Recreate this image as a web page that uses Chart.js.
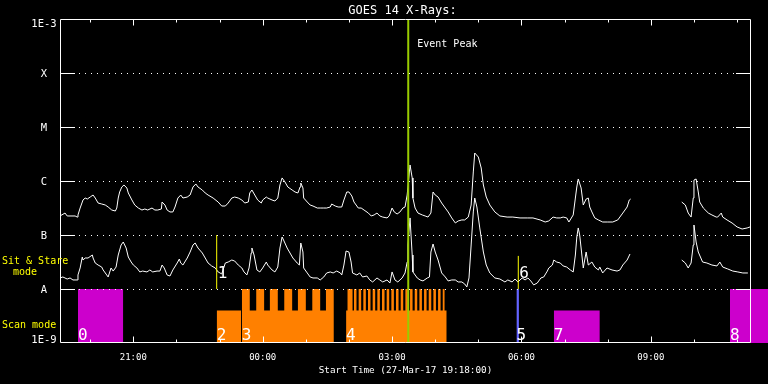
<!DOCTYPE html>
<html><head><meta charset="utf-8">
<style>html,body{margin:0;padding:0;background:#000;}canvas{display:block;}</style>
<script src="https://cdn.jsdelivr.net/npm/chart.js@4.4.1/dist/chart.umd.min.js"></script>
</head><body>
<canvas id="c" width="768" height="384"></canvas>
<script>
// ---------- DATA (time in minutes after 27-Mar-17 19:18:00, flux in W/m^2) ----------
const T_START = 0, T_END = 960, T_VIEW_END = 985;
const Y_MIN = 1e-9, Y_MAX = 1e-3;

const yTickVals   = [1e-3, 1e-4, 1e-5, 1e-6, 1e-7, 1e-8, 1e-9];
const yTickLabels = ['1E-3', 'X', 'M', 'C', 'B', 'A', '1E-9'];
const yGridVals   = [1e-4, 1e-5, 1e-6, 1e-7, 1e-8];

const xMajorTicks  = [102, 282, 462, 642, 822];
const xMajorLabels = ['21:00', '00:00', '03:00', '06:00', '09:00'];
const xMinorTicks  = [42, 162, 222, 342, 402, 522, 582, 702, 762, 882, 942];

// long channel (upper curve)
const longT = [0,7,10,21,24,25,28,31,32,35,38,42,46,49,53,58,63,67,72,77,79,81,83,86,89,93,95,100,104,109,114,118,122,128,132,136,141,142,146,149,153,157,160,164,168,171,177,181,185,189,192,198,202,206,213,220,225,230,234,239,243,248,253,257,262,264,267,271,275,280,282,287,289,295,299,303,306,309,313,317,323,327,331,334,335,338,339,344,348,352,358,362,367,371,376,378,383,387,392,395,399,402,406,409,415,419,423,429,433,437,441,445,449,455,458,462,465,469,473,477,480,483,487,490,491,494,498,504,508,512,516,519,522,526,531,536,540,545,550,554,559,563,568,572,575,577,582,586,589,593,598,605,612,622,630,640,650,658,668,675,680,686,691,696,700,705,708,714,717,719,721,725,728,732,735,737,740,744,749,755,762,769,776,783,789,792,794,830,865,870,874,878,881,882,885,888,890,895,902,907,913,915,920,922,928,935,942,949,956,960];
const longV = [2.25e-7,2.55e-7,2.25e-7,2.25e-7,2.15e-7,2.35e-7,3.16e-7,4.08e-7,4.45e-7,4.84e-7,4.64e-7,5.05e-7,5.5e-7,4.84e-7,3.91e-7,3.75e-7,3.59e-7,3.3e-7,2.9e-7,2.78e-7,3.16e-7,4.84e-7,6.26e-7,7.74e-7,8.43e-7,7.42e-7,6.0e-7,4.45e-7,3.59e-7,3.16e-7,2.9e-7,3.03e-7,2.9e-7,3.16e-7,2.9e-7,2.9e-7,3.03e-7,4.08e-7,3.59e-7,2.9e-7,2.67e-7,2.67e-7,3.3e-7,4.84e-7,5.5e-7,4.84e-7,5.05e-7,5.5e-7,7.74e-7,8.8e-7,7.74e-7,6.81e-7,6.0e-7,5.5e-7,4.84e-7,4.08e-7,3.44e-7,3.44e-7,3.91e-7,4.84e-7,5.05e-7,4.84e-7,4.45e-7,3.91e-7,4.08e-7,6.0e-7,6.81e-7,5.5e-7,4.45e-7,3.91e-7,4.45e-7,5.05e-7,4.84e-7,4.45e-7,4.26e-7,4.84e-7,8.43e-7,1.14e-6,9.58e-7,7.74e-7,6.81e-7,6.26e-7,6.0e-7,7.74e-7,9.18e-7,7.42e-7,4.84e-7,4.08e-7,3.59e-7,3.44e-7,3.16e-7,3.16e-7,3.16e-7,3.16e-7,3.3e-7,3.75e-7,3.44e-7,3.3e-7,3.3e-7,4.45e-7,6.26e-7,6.26e-7,5.28e-7,4.08e-7,3.16e-7,3.16e-7,2.9e-7,2.55e-7,2.25e-7,2.35e-7,2.55e-7,2.25e-7,2.15e-7,2.07e-7,2.25e-7,3.16e-7,2.67e-7,2.45e-7,2.67e-7,3.16e-7,3.3e-7,5.5e-7,1.98e-6,1.14e-6,4.84e-7,3.16e-7,2.55e-7,2.35e-7,2.25e-7,2.15e-7,2.55e-7,6.26e-7,5.5e-7,5.05e-7,3.91e-7,3.16e-7,2.67e-7,2.07e-7,1.67e-7,1.82e-7,1.9e-7,1.9e-7,2.15e-7,3.59e-7,1.47e-6,3.3e-6,2.78e-6,1.74e-6,8.43e-7,5.05e-7,3.59e-7,2.67e-7,2.25e-7,2.15e-7,2.15e-7,2.07e-7,2.07e-7,2.07e-7,1.9e-7,1.74e-7,1.82e-7,2.15e-7,2.07e-7,2.07e-7,2.15e-7,2.07e-7,1.74e-7,2.35e-7,4.84e-7,7.74e-7,1.09e-6,7.42e-7,3.59e-7,4.64e-7,4.84e-7,3.3e-7,2.67e-7,2.07e-7,1.9e-7,1.74e-7,1.74e-7,1.74e-7,1.9e-7,2.55e-7,3.3e-7,4.45e-7,4.64e-7,null,4.08e-7,3.59e-7,2.55e-7,2.15e-7,4.84e-7,1.04e-6,1.09e-6,6.26e-7,4.08e-7,3.16e-7,2.55e-7,2.35e-7,2.15e-7,2.15e-7,2.55e-7,2.15e-7,1.9e-7,1.67e-7,1.41e-7,1.29e-7,1.35e-7,1.41e-7];

// short channel (lower curve)
const shortT = [0,4,10,14,18,24,25,28,31,32,35,39,45,46,49,53,58,60,65,67,71,74,78,81,85,88,92,95,99,102,107,111,115,121,125,129,135,139,142,145,149,153,157,163,166,168,171,177,181,185,188,192,198,202,206,211,216,220,225,230,234,239,243,248,253,256,260,263,266,267,270,274,278,282,287,289,295,299,303,306,309,311,316,320,324,330,333,335,338,339,344,348,352,358,362,367,371,376,380,385,390,392,395,398,402,405,407,413,417,421,427,431,435,441,445,449,455,459,462,466,470,476,480,483,484,487,490,491,497,501,505,511,514,516,519,522,526,531,536,540,545,550,554,559,563,566,569,572,575,577,580,584,589,593,598,605,612,619,623,629,633,637,643,647,651,655,659,664,669,673,678,680,685,687,691,696,700,705,710,714,717,719,721,723,728,732,735,740,744,749,751,755,761,768,775,779,783,789,793,830,865,870,874,878,881,882,885,888,894,900,907,914,918,922,929,936,943,950,957];
const shortV = [1.6e-8,1.67e-8,1.53e-8,1.6e-8,1.47e-8,1.47e-8,1.82e-8,2.45e-8,3.91e-8,3.44e-8,3.75e-8,3.75e-8,4.26e-8,3.75e-8,3.03e-8,2.78e-8,2.55e-8,2.25e-8,1.82e-8,1.67e-8,2.45e-8,2.15e-8,2.55e-8,4.26e-8,6.53e-8,7.42e-8,5.74e-8,3.91e-8,3.16e-8,2.78e-8,2.45e-8,2.07e-8,2.15e-8,2.07e-8,2.25e-8,2.07e-8,2.15e-8,2.15e-8,2.78e-8,2.45e-8,1.82e-8,1.74e-8,2.25e-8,3.03e-8,3.59e-8,3.03e-8,2.78e-8,3.75e-8,4.84e-8,6.53e-8,7.11e-8,5.74e-8,4.64e-8,3.75e-8,3.03e-8,2.67e-8,2.45e-8,2.07e-8,1.9e-8,3.03e-8,3.16e-8,3.44e-8,3.3e-8,2.78e-8,2.45e-8,2.07e-8,1.82e-8,2.45e-8,4.64e-8,5.74e-8,4.26e-8,2.25e-8,2.07e-8,2.45e-8,3.16e-8,2.78e-8,2.25e-8,2.07e-8,2.55e-8,5.74e-8,9.18e-8,8.08e-8,5.74e-8,4.64e-8,3.75e-8,3.03e-8,2.78e-8,7.11e-8,4.84e-8,2.45e-8,1.98e-8,1.67e-8,1.6e-8,1.6e-8,1.47e-8,1.67e-8,1.98e-8,2.07e-8,1.98e-8,2.15e-8,1.98e-8,1.82e-8,2.78e-8,5.05e-8,4.84e-8,3.16e-8,1.98e-8,1.82e-8,1.98e-8,1.67e-8,1.74e-8,1.47e-8,1.35e-8,1.6e-8,1.47e-8,1.35e-8,1.47e-8,1.29e-8,2.07e-8,1.47e-8,1.35e-8,1.6e-8,1.98e-8,3.16e-8,6.53e-8,2.07e-7,4.26e-8,2.07e-8,1.6e-8,1.47e-8,1.41e-8,1.6e-8,1.67e-8,4.84e-8,6.81e-8,4.84e-8,3.44e-8,1.98e-8,1.67e-8,1.41e-8,1.47e-8,1.47e-8,1.35e-8,1.35e-8,1.24e-8,1.09e-8,1.6e-8,6.53e-8,2.67e-7,4.84e-7,3.3e-7,1.35e-7,4.84e-8,2.78e-8,1.98e-8,1.6e-8,1.53e-8,1.35e-8,1.47e-8,1.35e-8,1.53e-8,1.35e-8,1.6e-8,1.47e-8,1.6e-8,1.41e-8,1.19e-8,1.29e-8,1.6e-8,1.67e-8,2.15e-8,2.45e-8,2.78e-8,3.44e-8,3.16e-8,3.03e-8,2.67e-8,2.55e-8,2.25e-8,2.07e-8,4.26e-8,9.18e-8,1.35e-7,1.0e-7,2.45e-8,4.84e-8,2.78e-8,3.16e-8,2.55e-8,2.25e-8,2.55e-8,1.98e-8,2.45e-8,2.25e-8,2.15e-8,2.25e-8,2.78e-8,3.44e-8,4.45e-8,null,3.44e-8,3.03e-8,2.45e-8,3.03e-8,6.53e-8,1.53e-7,7.42e-8,4.84e-8,3.16e-8,3.03e-8,2.78e-8,2.67e-8,3.16e-8,2.55e-8,2.35e-8,2.15e-8,2.07e-8,1.98e-8,1.98e-8];

// scan-mode blocks
const scanIds   = ['0', '2', '3', '4', '5', '7', '8'];
const scanStart = [25, 218, 253, 398, 635, 687, 932];
const scanEnd   = [88, 252, 381, 538, 638.5, 751, 985];
const scanLevel = [1e-8, 4e-9, 4e-9, 4e-9, 1e-8, 4e-9, 1e-8];
const scanTallLevel = 1e-8;
const block3Tall = [[253,264],[273,284],[292,303],[312,323],[331,342],[351,362],[370,381]];
const block4Tall = [[400,407],[409,412.5],[415.5,419],[422,425.5],[428.5,432],[435,438.5],[441.5,445],[448,451.5],[454.5,458],[461,464.5],[467.5,471],[474,477.5],[480.5,484],[487,490.5],[493.5,497],[500,503.5],[506.5,510],[513,516.5],[519.5,523],[526,529.5],[532.5,535]];
const scanTall  = [null, null, block3Tall, block4Tall, null, null, null];

// sit & stare markers
const ssIds  = ['1', '6'];
const ssT    = [218, 637.6];
const ssTop  = [1e-7, 4.1e-8];
const ssBase = 1e-8;

const EVENT_T = 484.5;
const TITLE = 'GOES 14 X-Rays:';
const EVENT_LABEL = 'Event Peak';
const X_TITLE = 'Start Time (27-Mar-17 19:18:00)';

// ---------- STYLE ----------
const scanColors = ['#cc00cc', '#ff8000', '#ff8000', '#ff8000', '#6464ff', '#cc00cc', '#cc00cc'];
const MONO = '"DejaVu Sans Mono", "Liberation Mono", monospace';

// ---------- BUILD ----------
function pts(ts, vs) { return ts.map((t, i) => ({x: t, y: vs[i]})); }
function blockPoly(s, e, lvl, tall) {
  const p = [{x: s, y: Y_MIN}, {x: s, y: lvl}];
  if (tall) {
    for (const [a, b] of tall) {
      p.push({x: a, y: lvl}, {x: a, y: scanTallLevel}, {x: b, y: scanTallLevel}, {x: b, y: lvl});
    }
  }
  p.push({x: e, y: lvl}, {x: e, y: Y_MIN});
  return p;
}

const datasets = [];
datasets.push({data: [{x: EVENT_T, y: Y_MIN}, {x: EVENT_T, y: Y_MAX}], borderColor: '#99cc00', borderWidth: 2, order: 0});
ssIds.forEach((id, i) => datasets.push({data: [{x: ssT[i], y: ssBase}, {x: ssT[i], y: ssTop[i]}], borderColor: '#ffff00', borderWidth: 1, order: 1}));
datasets.push({data: pts(longT, longV), borderColor: '#ffffff', borderWidth: 1, order: 2});
datasets.push({data: pts(shortT, shortV), borderColor: '#ffffff', borderWidth: 1, order: 2});
scanIds.forEach((id, i) => datasets.push({
  data: blockPoly(scanStart[i], scanEnd[i], scanLevel[i], scanTall[i]),
  borderWidth: 0, borderColor: 'rgba(0,0,0,0)', backgroundColor: scanColors[i], fill: 'start', order: 5
}));
datasets.forEach(d => { d.pointRadius = 0; d.tension = 0; if (d.fill === undefined) d.fill = false; d.spanGaps = false; });

const idl = {
  id: 'idl',
  beforeDraw(chart) {
    const c = chart.ctx; c.save(); c.fillStyle = '#000'; c.fillRect(0, 0, chart.width, chart.height); c.restore();
  },
  afterDatasetsDraw(chart) {
    const ctx = chart.ctx, xs = chart.scales.x, ys = chart.scales.y;
    const line = (a, b, c, d) => { ctx.beginPath(); ctx.moveTo(a, b); ctx.lineTo(c, d); ctx.stroke(); };
    const Lr = Math.round(xs.getPixelForValue(T_START)), Rr = Math.round(xs.getPixelForValue(T_END));
    const L = Lr + 0.5, R = Rr + 0.5;
    const T = Math.round(ys.getPixelForValue(Y_MAX)) + 0.5;
    const B = Math.round(ys.getPixelForValue(Y_MIN)) - 0.5;
    ctx.save();
    ctx.strokeStyle = '#fff'; ctx.lineWidth = 1;
    yGridVals.forEach(v => {
      const py = Math.round(ys.getPixelForValue(v)) + 0.5;
      ctx.setLineDash([]);
      line(Lr, py, Lr + 15, py); line(Rr - 14, py, Rr + 1, py);
      ctx.setLineDash([1, 5]);
      line(Lr + 19, py, Rr - 16, py);
    });
    ctx.setLineDash([]);
    ctx.beginPath(); ctx.moveTo(L, T); ctx.lineTo(R, T); ctx.lineTo(R, B); ctx.lineTo(L, B); ctx.closePath(); ctx.stroke();
    xMinorTicks.forEach(t => { const px = Math.round(xs.getPixelForValue(t)) + 0.5; line(px, B, px, B - 3); line(px, T, px, T + 3); });
    xMajorTicks.forEach(t => { const px = Math.round(xs.getPixelForValue(t)) + 0.5; line(px, B, px, B - 6); line(px, T, px, T + 6); });

    ctx.fillStyle = '#fff';
    ctx.textBaseline = 'alphabetic';
    // y labels
    ctx.font = '10.5px ' + MONO; ctx.textAlign = 'center';
    yTickVals.forEach((v, i) => {
      const py = ys.getPixelForValue(v);
      let by = py + 4;
      if (v === Y_MAX) by = py + 8; else if (v === Y_MIN) by = py;
      ctx.fillText(yTickLabels[i], Lr - 16, by);
    });
    // x labels
    ctx.font = '9px ' + MONO;
    xMajorTicks.forEach((t, i) => ctx.fillText(xMajorLabels[i], xs.getPixelForValue(t), B + 17));
    ctx.font = '9.3px ' + MONO;
    ctx.fillText(X_TITLE, (L + R) / 2, B + 30);
    // title
    ctx.font = '12px ' + MONO;
    ctx.fillText(TITLE, (L + R) / 2 - 3, T - 6);
    // event label
    ctx.textAlign = 'left'; ctx.font = '10px ' + MONO;
    ctx.fillText(EVENT_LABEL, xs.getPixelForValue(EVENT_T) + 9, T + 27.5);
    // mode labels
    const yA = ys.getPixelForValue(1e-8);
    ctx.fillStyle = '#ffff00';
    ctx.fillText('Sit & Stare', 2, yA - 25.5);
    ctx.fillText('mode', 13, yA - 14.5);
    ctx.fillText('Scan mode', 2, B - 15);
    // block digits
    ctx.fillStyle = '#fff'; ctx.font = '16px ' + MONO;
    scanIds.forEach((id, i) => ctx.fillText(id, xs.getPixelForValue(scanStart[i]), B - 3));
    ssIds.forEach((id, i) => ctx.fillText(id, xs.getPixelForValue(ssT[i]) + 1, yA - 11));
    ctx.restore();
  }
};

new Chart(document.getElementById('c'), {
  type: 'line',
  data: {datasets},
  options: {
    responsive: false, animation: false, devicePixelRatio: 1,
    layout: {padding: {left: 60, right: 0, top: 19, bottom: 41}},
    plugins: {legend: {display: false}, tooltip: {enabled: false}, title: {display: false}},
    scales: {
      x: {type: 'linear', min: T_START, max: T_VIEW_END, display: false},
      y: {type: 'logarithmic', min: Y_MIN, max: Y_MAX, display: false}
    }
  },
  plugins: [idl]
});
</script>
</body></html>
